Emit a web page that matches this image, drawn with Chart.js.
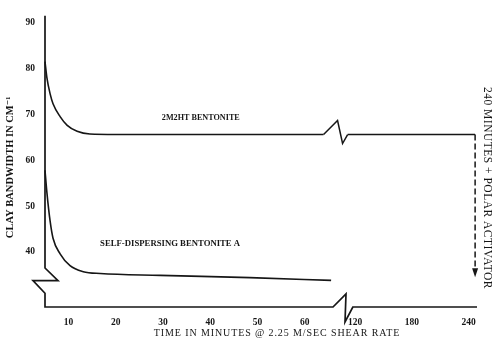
<!DOCTYPE html>
<html>
<head>
<meta charset="utf-8">
<script src="https://cdn.jsdelivr.net/npm/chart.js@4.4.1/dist/chart.umd.min.js"></script>
<style>
  html, body { margin: 0; padding: 0; background: #fff; }
  canvas { display: block; }
</style>
</head>
<body>
<canvas id="chart" width="494" height="339"></canvas>
<script>
// Clay band width (cm^-1) against mixing time (minutes)
const timeTicks = [10, 20, 30, 40, 50, 60, 120, 180, 240];
const bandTicks = [40, 50, 60, 70, 80, 90];

// 2M2HT bentonite: first hour, then the long run after the time-axis break
const minutes2M2HT     = [5, 5.4, 6.1, 6.7, 8.2, 9.7, 11.8, 14.5, 20, 30, 40, 50, 64];
const band2M2HT        = [81.5, 78.0, 74.4, 72.3, 69.5, 67.6, 66.3, 65.7, 65.6, 65.6, 65.6, 65.6, 65.6];
const minutes2M2HTLate = [112, 150, 200, 247];
const band2M2HTLate    = [65.6, 65.6, 65.6, 65.6];

// Self-dispersing bentonite A
const minutesSelfDisp = [5, 5.4, 6.1, 6.7, 8.2, 10.3, 13.1, 16.7, 29.4, 48.4, 65.6];
const bandSelfDisp    = [57.8, 53.0, 46.6, 43.0, 39.6, 37.0, 35.7, 35.3, 34.9, 34.4, 33.8];

// Band width reached at 240 minutes once the polar activator is added
const bandWithActivator = 34.5;

// Axis breaks (minutes on the time axis, cm^-1 on the band axis)
const timeBreak = [66, 117.5];
const bandBreak = [31.0, 36.5];

// Piecewise time axis: minutes map 1:1 up to the break, compressed afterwards
const EARLY_LIMIT = 90;
const LATE_ANCHOR = 180;
const LATE_ANCHOR_POS = 82.7;
const LATE_RATE = 0.2;
function axisPos(t) {
  return t <= EARLY_LIMIT ? t : LATE_ANCHOR_POS + (t - LATE_ANCHOR) * LATE_RATE;
}

function points(ts, vs) {
  return ts.map((t, i) => ({ x: axisPos(t), y: vs[i] }));
}

const INK = '#161616';
const SERIF = '"Liberation Serif", "DejaVu Serif", serif';

const data2M2HT = points(minutes2M2HT, band2M2HT)
  .concat([{ x: axisPos((minutes2M2HT[minutes2M2HT.length - 1] + minutes2M2HTLate[0]) / 2), y: null }])
  .concat(points(minutes2M2HTLate, band2M2HTLate));

const labels = {
  top:    { text: '2M2HT BENTONITE', t: 38, band: 69.3, width: 78 },
  bottom: { text: 'SELF-DISPERSING BENTONITE A', t: 31.5, band: 41.9, width: 140 }
};

const decorations = {
  id: 'decorations',
  afterDatasetsDraw(chart) {
    const { ctx, chartArea: area, scales: { x, y } } = chart;
    const L = area.left, B = area.bottom;
    ctx.save();
    ctx.strokeStyle = INK;
    ctx.fillStyle = INK;
    ctx.lineJoin = 'miter';

    // band axis with its break
    ctx.lineWidth = 1.7;
    const yb0 = y.getPixelForValue(bandBreak[1]);
    const yb1 = y.getPixelForValue(bandBreak[0]);
    const ym = (yb0 + yb1) / 2;
    ctx.beginPath();
    ctx.moveTo(L, area.top);
    ctx.lineTo(L, yb0);
    ctx.lineTo(L + 13, ym);
    ctx.lineTo(L - 12, ym);
    ctx.lineTo(L, yb1);
    ctx.lineTo(L, B);
    // time axis with its break
    const xb0 = x.getPixelForValue(axisPos(timeBreak[0]));
    const xb1 = x.getPixelForValue(axisPos(timeBreak[1]));
    ctx.lineTo(xb0, B);
    ctx.lineTo(xb0 + 13, B - 13);
    ctx.lineTo(xb0 + 12, B + 15);
    ctx.lineTo(xb1, B);
    ctx.lineTo(area.right, B);
    ctx.stroke();

    // break glyph in the 2M2HT curve
    const meta = chart.getDatasetMeta(0).data;
    const gap = data2M2HT.findIndex(p => p.y === null);
    const a = meta[gap - 1], b = meta[gap + 1];
    ctx.lineWidth = 1.5;
    ctx.beginPath();
    ctx.moveTo(a.x, a.y);
    ctx.lineTo(a.x + 14, a.y - 14);
    ctx.lineTo(a.x + 19, a.y + 9);
    ctx.lineTo(b.x, b.y);
    ctx.stroke();

    // dashed drop at the end of the 2M2HT run
    const end = meta[meta.length - 1];
    const tip = y.getPixelForValue(bandWithActivator);
    ctx.setLineDash([6, 3]);
    ctx.beginPath();
    ctx.moveTo(end.x, end.y);
    ctx.lineTo(end.x, tip - 8);
    ctx.stroke();
    ctx.setLineDash([]);
    ctx.beginPath();
    ctx.moveTo(end.x - 3, tip - 9);
    ctx.lineTo(end.x + 3, tip - 9);
    ctx.lineTo(end.x, tip);
    ctx.closePath();
    ctx.fill();

    // curve labels
    ctx.textAlign = 'center';
    ctx.textBaseline = 'middle';
    ctx.font = 'bold 9px ' + SERIF;
    for (const k of ['top', 'bottom']) {
      const lb = labels[k];
      ctx.fillText(lb.text, x.getPixelForValue(axisPos(lb.t)), y.getPixelForValue(lb.band), lb.width);
    }

    // axis titles
    ctx.font = 'bold 10.5px ' + SERIF;
    ctx.save();
    ctx.translate(10, (area.top + B) / 2 + 6);
    ctx.rotate(-Math.PI / 2);
    ctx.fillText('CLAY BANDWIDTH IN CM\u207B\u00B9', 0, 0, 146);
    ctx.restore();

    ctx.font = '10px ' + SERIF;
    ctx.letterSpacing = '0.9px';
    ctx.fillText('TIME IN MINUTES @ 2.25 M/SEC SHEAR RATE', 277, 333, 248);

    ctx.save();
    ctx.translate(487, 188);
    ctx.rotate(Math.PI / 2);
    ctx.font = '11.5px ' + SERIF;
    ctx.letterSpacing = '0.5px';
    ctx.fillText('240 MINUTES + POLAR ACTIVATOR', 0, 0, 205);
    ctx.restore();
    ctx.letterSpacing = '0px';

    ctx.restore();
  }
};

new Chart(document.getElementById('chart'), {
  type: 'line',
  data: {
    datasets: [
      {
        label: '2M2HT BENTONITE',
        data: data2M2HT,
        borderColor: INK,
        borderWidth: 1.6,
        pointRadius: 0,
        cubicInterpolationMode: 'monotone',
        spanGaps: false,
        clip: 6
      },
      {
        label: 'SELF-DISPERSING BENTONITE A',
        data: points(minutesSelfDisp, bandSelfDisp),
        borderColor: INK,
        borderWidth: 1.6,
        pointRadius: 0,
        cubicInterpolationMode: 'monotone',
        clip: 6
      }
    ]
  },
  options: {
    responsive: false,
    animation: false,
    devicePixelRatio: 1,
    layout: { padding: { top: 10, right: 17, left: 0, bottom: 0 } },
    plugins: { legend: { display: false }, tooltip: { enabled: false } },
    scales: {
      x: {
        type: 'linear',
        min: 5,
        max: 96.5,
        grid: { display: false, drawTicks: false },
        border: { display: false },
        afterBuildTicks(scale) {
          scale.ticks = timeTicks.map(t => ({ value: axisPos(t) }));
        },
        afterFit(scale) { scale.height = 32; },
        ticks: {
          autoSkip: false,
          maxRotation: 0,
          padding: 10,
          color: INK,
          font: { family: SERIF, size: 9.5, weight: 'bold' },
          callback: (v, i) => String(timeTicks[i])
        }
      },
      y: {
        type: 'linear',
        min: 28,
        max: 91.5,
        grid: { display: false, drawTicks: false },
        border: { display: false },
        afterBuildTicks(scale) {
          scale.ticks = bandTicks.map(v => ({ value: v }));
        },
        afterFit(scale) { scale.width = 45; },
        ticks: {
          padding: 10,
          color: INK,
          font: { family: SERIF, size: 9.5, weight: 'bold' },
          callback: (v) => String(v)
        }
      }
    }
  },
  plugins: [decorations]
});
</script>
</body>
</html>
